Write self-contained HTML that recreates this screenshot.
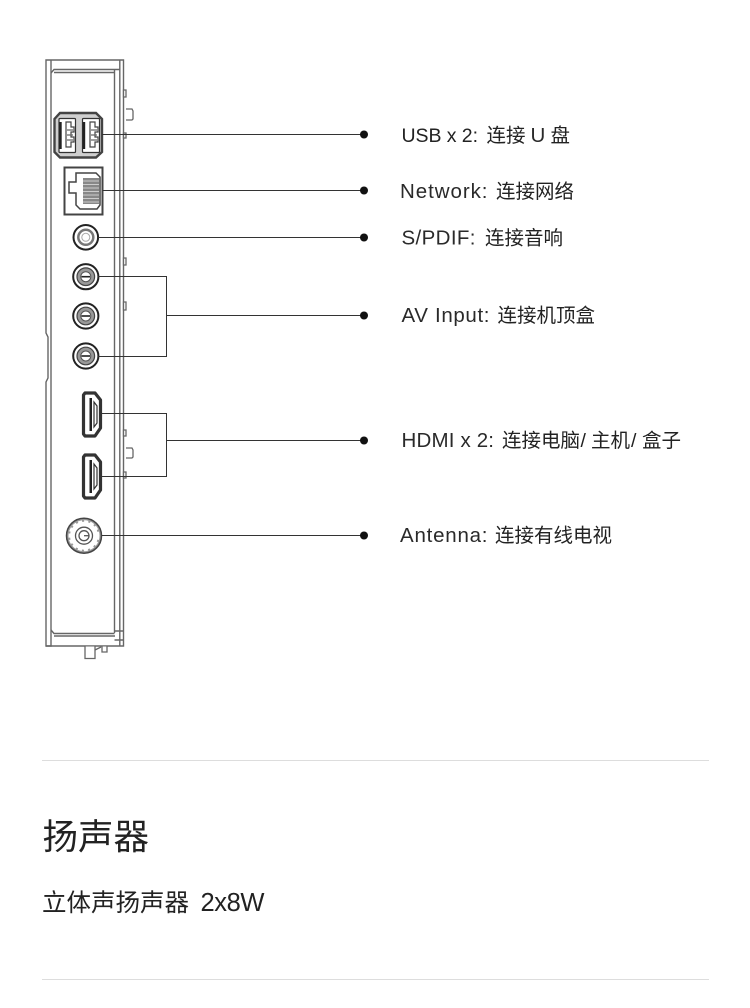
<!DOCTYPE html>
<html><head><meta charset="utf-8"><style>
html,body{margin:0;padding:0;background:#fff}
body{width:750px;height:1008px;overflow:hidden;position:relative}
svg{position:absolute;left:0;top:0}
text{font-family:"Liberation Sans","Noto Sans CJK SC",sans-serif;fill:#222}
.l{font-size:20.5px;fill:#2a2a2a}
</style></head><body>
<svg width="750" height="1008" viewBox="0 0 750 1008" fill="none">
<!-- chassis -->
<g stroke="#666" stroke-width="1.400">
<path d="M46 60H123.500V646H46V382L48 378V337L46 333V60Z"/>
<path d="M51 60V646H46M114.500 70V633M119.800 60V646"/>
<path d="M51 73L54 69.500H119.800M54 72.500H114.500"/>
<path d="M51 630L54 633.500H114.500M54 636H115M114.500 631H123.500M114.500 640H123.500"/>
</g>
<g stroke="#666" stroke-width="1.300" fill="#fff">
<path d="M123.500 90h2.500v7h-2.500zM123.500 133h2.500v5h-2.500zM123.500 258h2.500v7h-2.500zM123.500 302h2.500v8h-2.500zM123.500 430h2.500v6h-2.500zM123.500 472h2.500v6h-2.500z"/>
<path d="M126 109h6l1 2v8l-1 1h-6M126 448h6l1 2v7l-1 1h-6"/>
<path d="M85 646.500v12h10v-12M102 646.500v5.500h5v-5.500M95 650l6-3"/>
</g>
<!-- USB -->
<path d="M60 113H96L102 119V152L96 157.500H60L54.500 152V119Z" stroke="#444" stroke-width="2.400" fill="#cfcfcf"/>
<g stroke="#333" stroke-width="1.200" fill="#fff">
<rect x="59" y="118.500" width="16.500" height="34" rx="1"/><rect x="82.500" y="118.500" width="17" height="34" rx="1"/>
</g>
<path d="M60.500 122v27M84 122v27" stroke="#222" stroke-width="2.400"/>
<path d="M66 122h5v5h3v5h-3v5h3v5h-3v5h-5ZM90 122h5v5h3v5h-3v5h3v5h-3v5h-5Z" stroke="#444" stroke-width="1.200"/>
<path d="M67 130h6M67 135h6M67 140h6M91 130h6M91 135h6M91 140h6" stroke="#666" stroke-width="1.200"/>
<!-- RJ45 -->
<rect x="64.500" y="167.500" width="38" height="47" stroke="#444" stroke-width="2" fill="#fff"/>
<path d="M76 173H96L100 177V205L97 209H80L76 205V193H69V182H76Z" stroke="#444" stroke-width="1.500" fill="#fff"/>
<rect x="83" y="178" width="16" height="26" fill="#888"/>
<path d="M83 181h16M83 184.500h16M83 188h16M83 191.500h16M83 195h16M83 198.500h16M83 202h16" stroke="#ccc" stroke-width="1"/>
<!-- S/PDIF -->
<g>
<circle cx="85.800" cy="237.300" r="12.300" stroke="#222" stroke-width="2" fill="#fff"/>
<circle cx="85.800" cy="237.300" r="7.500" stroke="#777" stroke-width="2.500" fill="#fff"/>
<circle cx="85.800" cy="237.300" r="4" stroke="#aaa" stroke-width="1" fill="#fff"/>
</g>
<!-- RCA -->
<g>
<circle cx="85.800" cy="276.700" r="12.600" stroke="#222" stroke-width="2" fill="#fff"/><circle cx="85.800" cy="276.700" r="8.800" stroke="#444" stroke-width="1.200" fill="#999"/><circle cx="85.800" cy="276.700" r="5" stroke="#555" fill="#fff"/><path d="M81.500 276.700h8.600" stroke="#222" stroke-width="1.600"/>
<circle cx="85.800" cy="316" r="12.600" stroke="#222" stroke-width="2" fill="#fff"/><circle cx="85.800" cy="316" r="8.800" stroke="#444" stroke-width="1.200" fill="#999"/><circle cx="85.800" cy="316" r="5" stroke="#555" fill="#fff"/><path d="M81.500 316h8.600" stroke="#222" stroke-width="1.600"/>
<circle cx="85.800" cy="356" r="12.600" stroke="#222" stroke-width="2" fill="#fff"/><circle cx="85.800" cy="356" r="8.800" stroke="#444" stroke-width="1.200" fill="#999"/><circle cx="85.800" cy="356" r="5" stroke="#555" fill="#fff"/><path d="M81.500 356h8.600" stroke="#222" stroke-width="1.600"/>
</g>
<!-- HDMI -->
<g stroke="#333" stroke-width="3.200" fill="#fff" stroke-linejoin="round">
<path d="M85 393H95L100.500 400V428L95 436H85L83.500 434V395Z"/>
<path d="M85 455H95L100.500 462V490L95 498H85L83.500 496V457Z"/>
</g>
<g fill="#222">
<path d="M89.500 398H92V431H89.500Z"/><path d="M94 402L97 406V423L94 427Z" fill="none" stroke="#333" stroke-width="1.200"/>
<path d="M89.500 460H92V493H89.500Z"/><path d="M94 464L97 468V485L94 489Z" fill="none" stroke="#333" stroke-width="1.200"/>
</g>
<!-- Antenna -->
<circle cx="84" cy="535.700" r="17.500" stroke="#444" stroke-width="1.500" fill="#999"/>
<circle cx="84" cy="535.700" r="14" stroke="#fff" stroke-dasharray="4 2" stroke-width="3" fill="#fff"/>
<circle cx="84" cy="535.700" r="8.500" stroke="#555" stroke-width="1.300"/>
<circle cx="84" cy="535.700" r="5" stroke="#555" stroke-width="1.300"/>
<path d="M84 535.700h5" stroke="#555" stroke-width="1.300"/>
<!-- connectors -->
<g stroke="#333" stroke-width="1">
<path d="M102 134.500H364M102.500 190.500H364M98 237.500H364"/>
<path d="M98 276.500H166.500V356.500H98M166.500 315.500H364"/>
<path d="M102 413.500H166.500V476.500H102M166.500 440.500H364"/>
<path d="M102 535.500H364"/>
</g>
<g fill="#111">
<circle cx="364" cy="134.500" r="4"/><circle cx="364" cy="190.500" r="4"/><circle cx="364" cy="237.500" r="4"/><circle cx="364" cy="315.500" r="4"/><circle cx="364" cy="440.500" r="4"/><circle cx="364" cy="535.500" r="4"/>
</g>
<!-- labels -->
<g font-size="19.500">
<text x="401.500" y="142" font-size="19.500" fill="#2a2a2a" textLength="76.500">USB x 2:</text><text x="486.500" y="142">连接</text><text class="l" x="530.500" y="142" textLength="13">U</text><text x="550.500" y="142">盘</text>
<text class="l" x="400" y="198" textLength="87.500">Network:</text><text x="496" y="198">连接网络</text>
<text class="l" x="401.500" y="244.500" textLength="74">S/PDIF:</text><text x="485" y="244.500">连接音响</text>
<text class="l" x="401.500" y="322" textLength="88">AV Input:</text><text x="497.500" y="322">连接机顶盒</text>
<text class="l" x="401.500" y="447" textLength="92.500">HDMI x 2:</text><text x="502" y="447">连接电脑</text><text x="580.500" y="447">/</text><text x="591" y="447">主机</text><text x="631" y="447">/</text><text x="642" y="447">盒子</text>
<text class="l" x="400" y="542" textLength="87.500">Antenna:</text><text x="495" y="542">连接有线电视</text>
</g>
<path d="M42 760.500H709M42 979.500H709" stroke="#ddd" stroke-width="1"/>
<text x="42.500" y="849" font-size="35.500">扬声器</text>
<text x="42" y="911" font-size="24.500">立体声扬声器</text>
<text x="200.500" y="911" font-size="25.500" textLength="64">2x8W</text>
</svg>
</body></html>
